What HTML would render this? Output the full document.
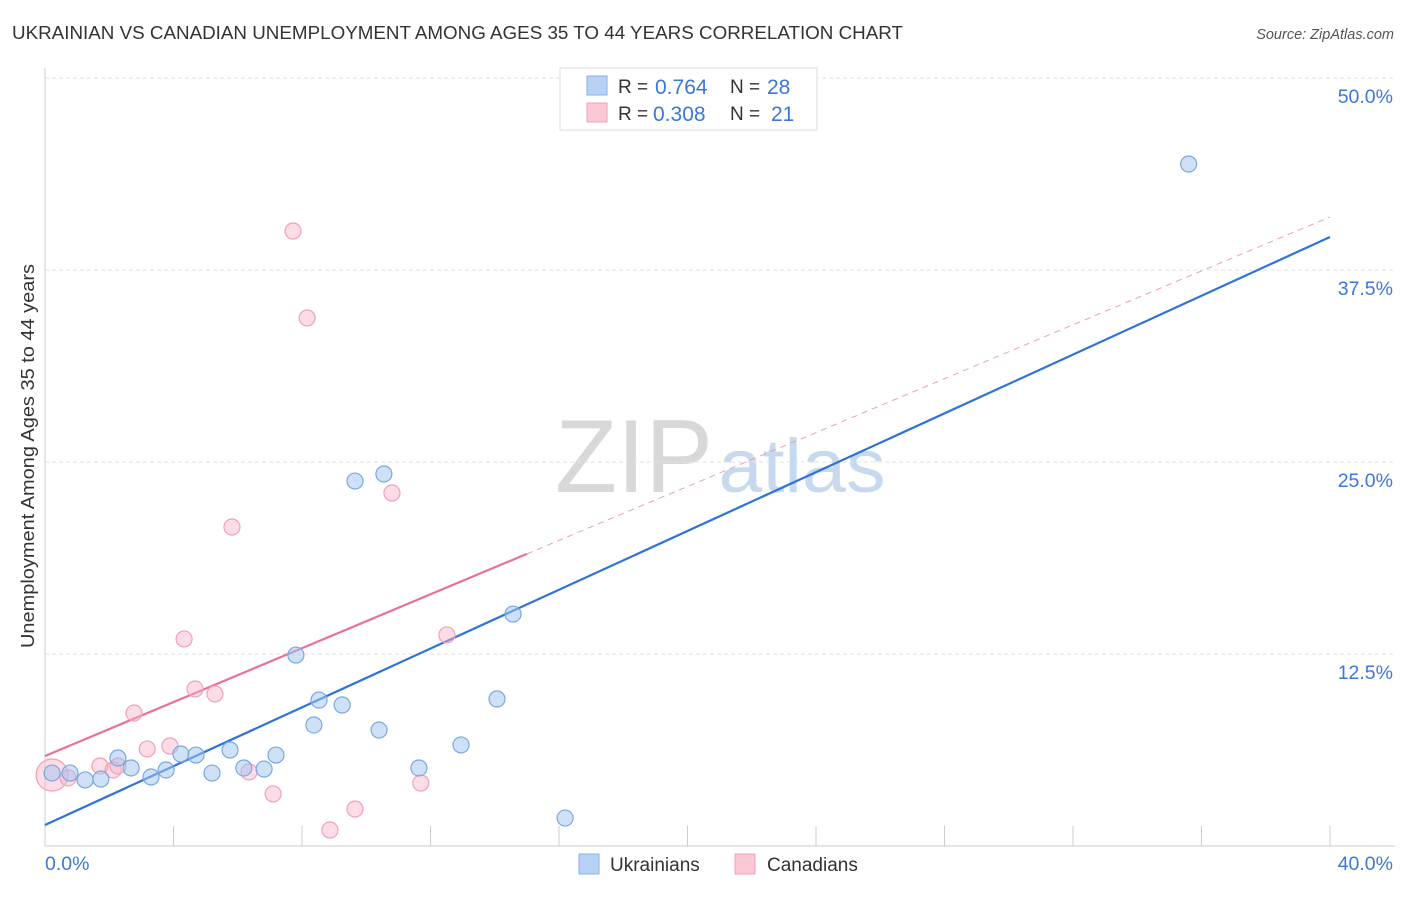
<!DOCTYPE html>
<html><head><meta charset="utf-8"><style>
body{margin:0;background:#fff;font-family:"Liberation Sans",sans-serif;}
svg text{font-family:"Liberation Sans",sans-serif;}
</style></head><body>
<svg id="chart" width="1406" height="892" xmlns="http://www.w3.org/2000/svg">
<text x="12" y="39" font-size="18.6" fill="#333" textLength="891" lengthAdjust="spacingAndGlyphs">UKRAINIAN VS CANADIAN UNEMPLOYMENT AMONG AGES 35 TO 44 YEARS CORRELATION CHART</text>
<text x="1394" y="39" font-size="14.5" fill="#555" text-anchor="end" font-style="italic">Source: ZipAtlas.com</text>
<text transform="translate(34,456) rotate(-90)" font-size="18.5" fill="#333" text-anchor="middle" textLength="384" lengthAdjust="spacingAndGlyphs">Unemployment Among Ages 35 to 44 years</text>
<g>
<text x="634" y="492" font-size="104" fill="#d8d8d8" font-family="Liberation Serif,serif" text-anchor="middle" textLength="158" lengthAdjust="spacingAndGlyphs">ZIP</text>
<text x="802" y="492" font-size="76" fill="#c6d9ee" text-anchor="middle" textLength="167" lengthAdjust="spacingAndGlyphs">atlas</text>
</g>
<g id="grid"></g><g id="axes"></g><g id="lines"></g><g id="pts"></g>
<g>
<rect x="560" y="68" width="257" height="62" fill="#fff" stroke="#ddd"/>
<rect x="587" y="76" width="20" height="19" fill="#b7d2f5" stroke="#8ab2e6"/>
<rect x="587" y="103" width="20" height="19" fill="#fbc8d6" stroke="#f0a0b8"/>
<text x="618" y="93" font-size="19" fill="#333">R =</text>
<text x="655" y="94" font-size="21" fill="#3a78d8">0.764</text>
<text x="730" y="93" font-size="19" fill="#333">N =</text>
<text x="767" y="94" font-size="21" fill="#3a78d8">28</text>
<text x="618" y="120" font-size="19" fill="#333">R =</text>
<text x="653" y="121" font-size="21" fill="#3a78d8">0.308</text>
<text x="730" y="120" font-size="19" fill="#333">N =</text>
<text x="771" y="121" font-size="21" fill="#3a78d8">21</text>
</g>
<g>
<rect x="579" y="854" width="20" height="20" fill="#b7d2f5" stroke="#8ab2e6"/>
<text x="610" y="871" font-size="19" fill="#333">Ukrainians</text>
<rect x="735" y="854" width="20" height="20" fill="#fbc8d6" stroke="#f0a0b8"/>
<text x="767" y="871" font-size="19" fill="#333">Canadians</text>
</g>
</svg>
<script>
const yTicks=[12.5,25,37.5,50];
const yTickLabels=["12.5%","25.0%","37.5%","50.0%"];
const xTickLabels=["0.0%","40.0%"];
const blueX=[0.78,1.25,1.74,2.27,2.68,3.30,3.77,4.23,4.70,5.20,5.76,6.19,6.82,7.19,7.81,8.37,8.53,9.25,9.65,10.40,10.55,11.64,12.95,14.07,14.57,16.19,35.6,0.22];
const blueY=[4.75,4.30,4.36,5.73,5.08,4.49,4.95,5.99,5.92,4.75,6.25,5.08,5.01,5.92,12.43,7.88,9.5,9.18,23.76,7.55,24.22,5.08,6.58,9.57,15.1,1.82,44.4,4.75];
const pinkX=[0.22,0.72,1.71,2.12,2.27,2.77,3.18,3.89,4.33,4.67,5.29,5.82,6.35,7.10,7.72,8.16,8.87,9.65,10.80,11.70,12.51];
const pinkY=[4.62,4.43,5.21,4.95,5.21,8.66,6.32,6.51,13.48,10.22,9.90,20.77,4.82,3.39,40.04,34.38,1.04,2.41,22.98,4.10,13.74];
const blueLine=[1.37,39.65];
const pinkLine=[5.86,40.95];
const pinkSolidEnd=15.0;
const NS="http://www.w3.org/2000/svg";
const X=v=>45+v*32.125, Y=v=>846-v*15.36;
function mk(t,a,p){const e=document.createElementNS(NS,t);for(const k in a)e.setAttribute(k,a[k]);document.getElementById(p).appendChild(e);return e;}
yTicks.forEach((t,i)=>{
 const g=mk('line',{x1:45,x2:1395,y1:Y(t),y2:Y(t),stroke:'#e2e2e2','stroke-dasharray':'4,3'},'grid');
 
 
 const tx=mk('text',{x:1393,y:Y(t)+25,'font-size':19.5,fill:'#3a78d8','text-anchor':'end'},'axes');
 tx.textContent=yTickLabels[i];
 
 
});
const ax=mk('line',{x1:45,x2:45,y1:68,y2:846,stroke:'#ccc'},'axes');


const bx=mk('line',{x1:45,x2:1395,y1:846,y2:846,stroke:'#ccc'},'axes');


for(let i=0;i<=10;i++){const t=mk('line',{x1:X(i*4),x2:X(i*4),y1:826,y2:846,stroke:'#ccc'},'axes');
 
 }
[[0,'start',45],[40,'end',1393]].forEach((d,i)=>{const t=mk('text',{x:d[2],y:870,'font-size':19.5,fill:'#3a78d8','text-anchor':d[1]},'axes');t.textContent=xTickLabels[i];
 
 });
const pl=v=>pinkLine[0]+(pinkLine[1]-pinkLine[0])*v/40;
const l1=mk('line',{x1:X(0),y1:Y(blueLine[0]),x2:X(40),y2:Y(blueLine[1]),stroke:'#2f73d6','stroke-width':2.2},'lines');


const l2=mk('line',{x1:X(0),y1:Y(pl(0)),x2:X(pinkSolidEnd),y2:Y(pl(pinkSolidEnd)),stroke:'#e8709a','stroke-width':2.2},'lines');


const l3=mk('line',{x1:X(pinkSolidEnd),y1:Y(pl(pinkSolidEnd)),x2:X(40),y2:Y(pl(40)),stroke:'#e8a0b8','stroke-width':1,'stroke-dasharray':'6,5'},'lines');


pinkX.forEach((x,i)=>{const c=mk('circle',{cx:X(x),cy:Y(pinkY[i]),r:i==0?16:8,fill:'rgba(248,180,200,0.45)',stroke:'#f0a0b8','stroke-width':1.2},'pts');
 
 });
blueX.forEach((x,i)=>{const c=mk('circle',{cx:X(x),cy:Y(blueY[i]),r:8,fill:'rgba(160,195,240,0.5)',stroke:'#7aa8e0','stroke-width':1.2},'pts');
 
 });
</script>
</body></html>
